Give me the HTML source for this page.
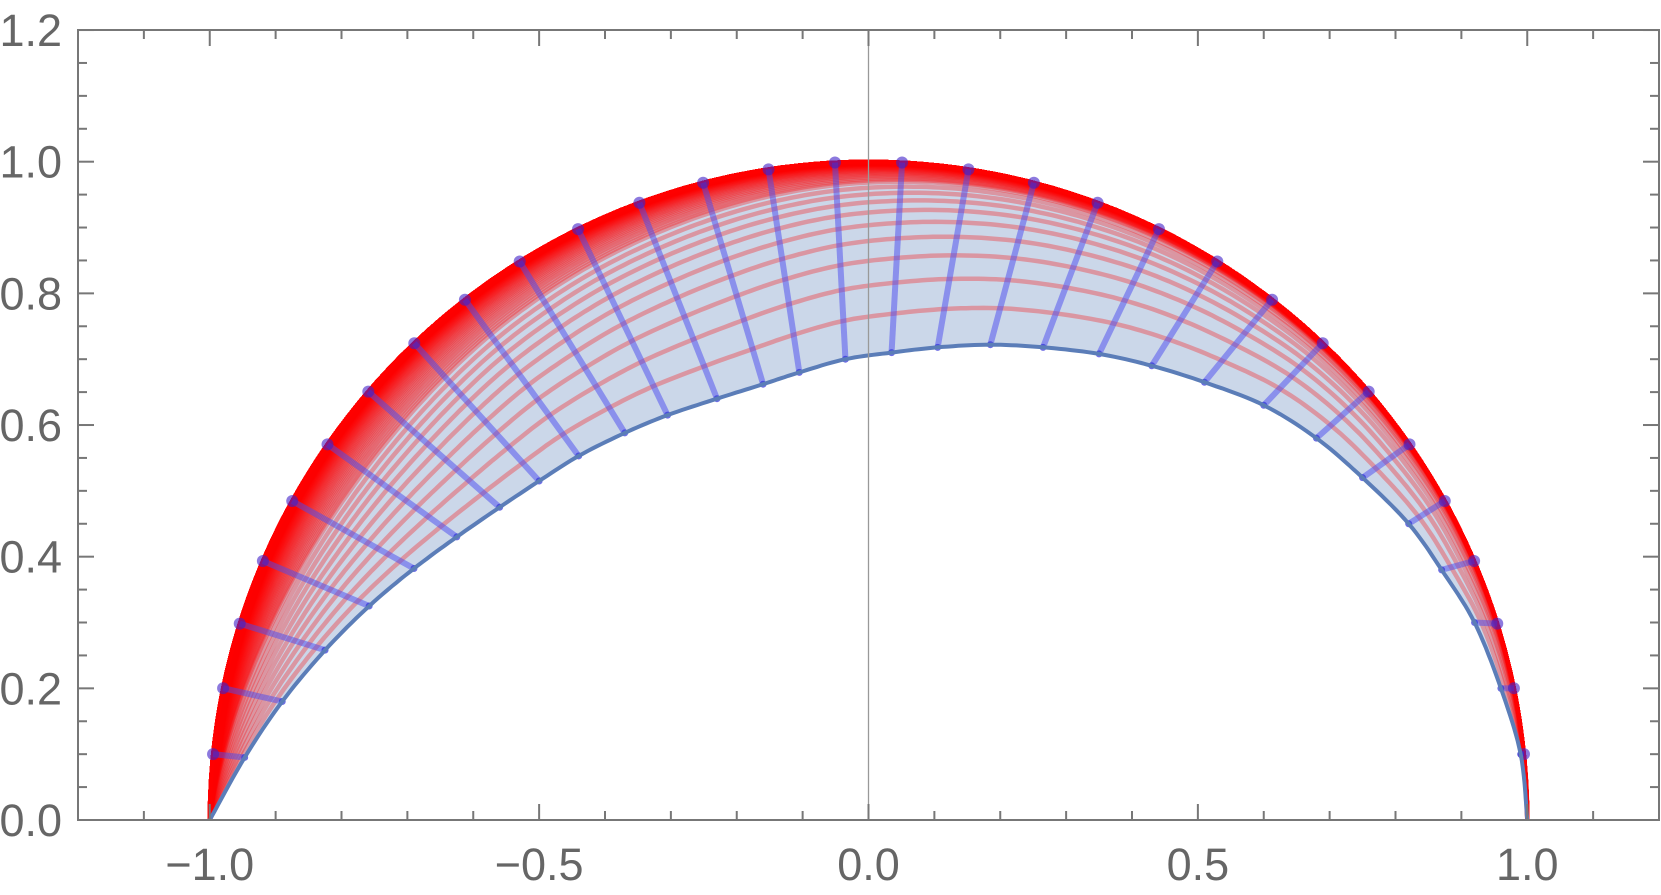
<!DOCTYPE html>
<html><head><meta charset="utf-8"><style>
html,body{margin:0;padding:0;background:#fff;}
svg{display:block;}
text{font-family:"Liberation Sans",sans-serif;font-size:45px;fill:#666;}
</style></head><body>
<svg id="s" width="1661" height="895" viewBox="0 0 1661 895" xmlns="http://www.w3.org/2000/svg">
<g id="plot"></g>
<g id="axes"></g>
</svg>
<script>
var NS="http://www.w3.org/2000/svg";
function X(x){return 868.5+658.75*x;}
function Y(y){return 820-658.3*y;}
function el(p,t,a){var e=document.createElementNS(NS,t);for(var k in a)e.setAttribute(k,a[k]);p.appendChild(e);return e;}
var plot=document.getElementById('plot'),axes=document.getElementById('axes');
var inner=[[-1,0],[-0.947,0.095],[-0.89,0.18],[-0.825,0.258],[-0.758,0.325],[-0.69,0.382],[-0.625,0.43],[-0.56,0.475],[-0.5,0.515],[-0.44,0.553],[-0.37,0.588],[-0.305,0.615],[-0.23,0.64],[-0.16,0.662],[-0.105,0.68],[-0.035,0.70],
[0.035,0.71],[0.105,0.718],[0.185,0.722],[0.265,0.718],[0.35,0.708],[0.43,0.69],[0.51,0.665],[0.6,0.63],[0.68,0.58],[0.75,0.52],[0.82,0.45],[0.87,0.38],[0.92,0.3],[0.96,0.2],[0.99,0.1],[1,0]];
var left=[];for(var k=0;k<15;k++)left.push((180-(5.74+5.81*k))*Math.PI/180);
var right=[];for(var k=14;k>=0;k--)right.push((5.74+5.81*k)*Math.PI/180);
var ang=[Math.PI].concat(left,right,[0]);
var outer=ang.map(function(a){return [Math.cos(a),Math.sin(a)];});
function cr(p0,p1,p2,p3,u){var u2=u*u,u3=u2*u;return 0.5*((2*p1)+(-p0+p2)*u+(2*p0-5*p1+4*p2-p3)*u2+(-p0+3*p1-3*p2+p3)*u3);}
function innerAt(i,u){var N=inner.length;var a=inner[Math.max(i-1,0)],b=inner[i],c=inner[i+1],d=inner[Math.min(i+2,N-1)];return [cr(a[0],b[0],c[0],d[0],u),cr(a[1],b[1],c[1],d[1],u)];}
function sample(n){var pts=[];var N=inner.length-1;for(var i=0;i<N;i++){for(var j=0;j<10;j++){var u=j/10;var a=ang[i]+(ang[i+1]-ang[i])*u;var o=[Math.cos(a),Math.sin(a)];var ip=innerAt(i,u);
var t;if(n<0)t=0;else if(n>=1000)t=1;else{var r=0.80-0.1*Math.cos(a);t=1-Math.pow(r,n);}
pts.push([ip[0]+t*(o[0]-ip[0]),ip[1]+t*(o[1]-ip[1])]);}}pts.push([1,0]);return pts;}
function path(pts){return pts.map(function(p,i){return (i?'L':'M')+X(p[0]).toFixed(1)+' '+Y(p[1]).toFixed(1);}).join('');}
var ip=sample(-1),op=sample(1000);
el(plot,'path',{d:path(ip)+path(op.slice().reverse()).replace('M','L')+'Z',fill:'#cbd7e9',stroke:'none'});
for(var n=1;n<=10;n++){el(plot,'path',{d:path(sample(n)),fill:'none',stroke:'#ff0000','stroke-opacity':0.3,'stroke-width':4.5});}
for(var n=10.4;n<=120;n+=0.4){el(plot,'path',{d:path(sample(n)),fill:'none',stroke:'#ff0000','stroke-opacity':0.3,'stroke-width':4});}
el(plot,'path',{d:path(op),fill:'none',stroke:'#ff0000','stroke-width':4});
for(var i=1;i<inner.length-1;i++){
el(plot,'line',{x1:X(inner[i][0]),y1:Y(inner[i][1]),x2:X(outer[i][0]),y2:Y(outer[i][1]),stroke:'#4a4af0','stroke-opacity':0.5,'stroke-width':6});
el(plot,'circle',{cx:X(inner[i][0]),cy:Y(inner[i][1]),r:3.5,fill:'#3030d8','fill-opacity':0.7});
el(plot,'circle',{cx:X(outer[i][0]),cy:Y(outer[i][1]),r:6,fill:'#4020c8','fill-opacity':0.6});
}
el(plot,'path',{d:path(ip),fill:'none',stroke:'#5b7db8','stroke-width':4});
el(axes,'line',{x1:X(0),y1:30,x2:X(0),y2:820,stroke:'#999','stroke-width':1.3});
el(axes,'rect',{x:78,y:30,width:1581,height:790,fill:'none',stroke:'#777','stroke-width':2});
for(var i=-12;i<=12;i++){var x=X(i/10),maj=(i%5==0),L=maj?16:9;
el(axes,'line',{x1:x,y1:820,x2:x,y2:820-L,stroke:'#777','stroke-width':2});
el(axes,'line',{x1:x,y1:30,x2:x,y2:30+L,stroke:'#777','stroke-width':2});
if(maj&&Math.abs(i)<=10){var tx=el(axes,'text',{x:x,y:880,'text-anchor':'middle'});tx.textContent=(i<0?'\u2212':'')+Math.abs(i/10).toFixed(1);}}
for(var i=0;i<=24;i++){var y=Y(i/20),maj=(i%4==0),L=maj?16:9;
el(axes,'line',{x1:78,y1:y,x2:78+L,y2:y,stroke:'#777','stroke-width':2});
el(axes,'line',{x1:1659,y1:y,x2:1659-L,y2:y,stroke:'#777','stroke-width':2});
if(maj){var ty=el(axes,'text',{x:62,y:y+16,'text-anchor':'end'});ty.textContent=(i/20).toFixed(1);}}
</script>
</body></html>
